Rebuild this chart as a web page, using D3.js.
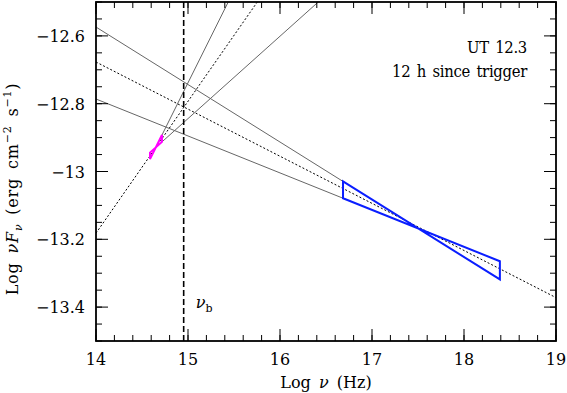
<!DOCTYPE html>
<html>
<head>
<meta charset="utf-8">
<script src="https://cdn.jsdelivr.net/npm/d3@7"></script>
<style>
  body { margin: 0; background: #fff; }
</style>
</head>
<body>
<div id="chart"></div>
<script>
// axis ranges and ticks
const xDomain = [14, 19];
const yDomain = [-13.5, -12.5];
const xTicks = [14, 15, 16, 17, 18, 19];
const yTicks = [-13.4, -13.2, -13, -12.8, -12.6];
const yTickLabels = ["\u221213.4", "\u221213.2", "\u221213", "\u221212.8", "\u221212.6"];

// X-ray bow tie: pivot, edges, two slopes
const xrayPivot = [17.503, -13.168];
const xrayRange = [16.685, 18.39];
const xraySlopes = [-0.1696, -0.109];

// optical bow tie
const optPivot = [14.65, -12.929];
const optRange = [14.587, 14.717];
const optSlopes = [0.545, 0.243];

// best fit lines (dotted): [x0, y0, slope]
const fitLines = [
  [14, -12.677, -0.139],
  [14, -13.182, 0.389]
];

// cooling break
const nuBreak = 14.953;

const labels = ["UT 12.3", "12 h since trigger"];

const FONT = "'DejaVu Serif', 'Liberation Serif', serif";

const width = 567, height = 393;
const margin = { left: 96, right: 11, top: 2, bottom: 52 };

const svg = d3.select("#chart").append("svg")
  .attr("width", width).attr("height", height)
  .attr("font-family", FONT);

const x = d3.scaleLinear().domain(xDomain).range([margin.left, width - margin.right]);
const y = d3.scaleLinear().domain(yDomain).range([height - margin.bottom, margin.top]);

svg.append("clipPath").attr("id", "clip")
  .append("rect")
  .attr("x", x(xDomain[0])).attr("y", y(yDomain[1]))
  .attr("width", x(xDomain[1]) - x(xDomain[0]))
  .attr("height", y(yDomain[0]) - y(yDomain[1]));

const plot = svg.append("g").attr("clip-path", "url(#clip)");

const line = d3.line().x(d => x(d[0])).y(d => y(d[1]));
const along = (p, s, xv) => [xv, p[1] + s * (xv - p[0])];

// dotted fits
fitLines.forEach(f => {
  const p = [f[0], f[1]];
  plot.append("path")
    .attr("d", line([p, along(p, f[2], xDomain[1])]))
    .attr("fill", "none").attr("stroke", "#000")
    .attr("stroke-width", 1).attr("stroke-dasharray", "2,2");
});

// gray extrapolations of the x-ray bow tie toward low frequency
xraySlopes.forEach(s => {
  plot.append("path")
    .attr("d", line([along(xrayPivot, s, xDomain[0]), along(xrayPivot, s, xrayRange[0])]))
    .attr("fill", "none").attr("stroke", "#666").attr("stroke-width", 1);
});

// gray extrapolations of the optical bow tie toward high frequency
optSlopes.forEach(s => {
  plot.append("path")
    .attr("d", line([along(optPivot, s, optRange[1]), along(optPivot, s, xDomain[1])]))
    .attr("fill", "none").attr("stroke", "#666").attr("stroke-width", 1);
});

function bowtie(p, r, sl, color) {
  const pts = [
    along(p, sl[0], r[0]), along(p, sl[0], r[1]),
    along(p, sl[1], r[1]), along(p, sl[1], r[0])
  ];
  plot.append("path")
    .attr("d", line(pts) + "Z")
    .attr("fill", "none").attr("stroke", color)
    .attr("stroke-width", 2).attr("stroke-linejoin", "miter");
}
bowtie(xrayPivot, xrayRange, xraySlopes, "#0a1eff");
bowtie(optPivot, optRange, optSlopes, "#ff00ff");

// nu_b dashed line
plot.append("line")
  .attr("x1", x(nuBreak)).attr("x2", x(nuBreak))
  .attr("y1", y(yDomain[0])).attr("y2", y(yDomain[1]))
  .attr("stroke", "#000").attr("stroke-width", 1.6)
  .attr("stroke-dasharray", "6,3");

const nb = svg.append("text")
  .attr("x", x(nuBreak) + 12).attr("y", 308)
  .style("font-size", "16px").style("font-style", "italic");
nb.append("tspan").text("\u03bd");
nb.append("tspan").attr("dy", 4).style("font-size", "11px").style("font-style", "normal").text("b");

// axes: ticks inside on all four sides
const xMinor = d3.range(14, 19.001, 0.2);
const yMinor = d3.range(-13.5, -12.499, 0.05);

const axisG = svg.append("g").attr("stroke", "#000").attr("stroke-width", 1);
function ticksX(vals, len) {
  vals.forEach(v => {
    axisG.append("line").attr("x1", x(v)).attr("x2", x(v))
      .attr("y1", y(yDomain[0])).attr("y2", y(yDomain[0]) - len);
    axisG.append("line").attr("x1", x(v)).attr("x2", x(v))
      .attr("y1", y(yDomain[1])).attr("y2", y(yDomain[1]) + len);
  });
}
function ticksY(vals, len) {
  vals.forEach(v => {
    axisG.append("line").attr("y1", y(v)).attr("y2", y(v))
      .attr("x1", x(xDomain[0])).attr("x2", x(xDomain[0]) + len);
    axisG.append("line").attr("y1", y(v)).attr("y2", y(v))
      .attr("x1", x(xDomain[1])).attr("x2", x(xDomain[1]) - len);
  });
}
ticksX(xMinor, 6);
ticksX(xTicks, 12);
ticksY(yMinor, 6);
ticksY(yTicks, 12);

svg.append("rect")
  .attr("x", x(xDomain[0])).attr("y", y(yDomain[1]))
  .attr("width", x(xDomain[1]) - x(xDomain[0]))
  .attr("height", y(yDomain[0]) - y(yDomain[1]))
  .attr("fill", "none").attr("stroke", "#000").attr("stroke-width", 1.8);

// tick labels
svg.selectAll(".xl").data(xTicks).enter().append("text")
  .attr("x", d => x(d)).attr("y", 365)
  .attr("text-anchor", "middle").style("font-size", "16px")
  .text(d => d);

svg.selectAll(".yl").data(yTicks).enter().append("text")
  .attr("x", 85).attr("y", d => y(d) + 6)
  .attr("text-anchor", "end").style("font-size", "16px")
  .text((d, i) => yTickLabels[i]);

// axis titles
const xt = svg.append("text")
  .attr("x", 326).attr("y", 388)
  .attr("text-anchor", "middle").style("font-size", "16px")
  .style("word-spacing", "3px");
xt.append("tspan").text("Log ");
xt.append("tspan").style("font-style", "italic").text("\u03bd");
xt.append("tspan").text(" (Hz)");

const yt = svg.append("text")
  .attr("transform", "translate(18,189) rotate(-90)")
  .attr("text-anchor", "middle").style("font-size", "16px")
  .style("letter-spacing", "0.8px").style("word-spacing", "3px");
yt.append("tspan").text("Log ");
yt.append("tspan").style("font-style", "italic").text("\u03bdF");
yt.append("tspan").attr("dy", 4).style("font-size", "11px").style("font-style", "italic").text("\u03bd");
yt.append("tspan").attr("dy", -4).text(" (erg cm");
yt.append("tspan").attr("dy", -7).style("font-size", "11px").text("\u22122");
yt.append("tspan").attr("dy", 7).text(" s");
yt.append("tspan").attr("dy", -7).style("font-size", "11px").text("\u22121");
yt.append("tspan").attr("dy", 7).text(")");

// annotation
labels.forEach((t, i) => {
  svg.append("text")
    .attr("x", 527).attr("y", 53 + i * 24)
    .attr("text-anchor", "end").style("font-size", "16.5px")
    .style("font-stretch", "condensed")
    .style("letter-spacing", "-0.3px").style("word-spacing", "2px")
    .text(t);
});
</script>
</body>
</html>
